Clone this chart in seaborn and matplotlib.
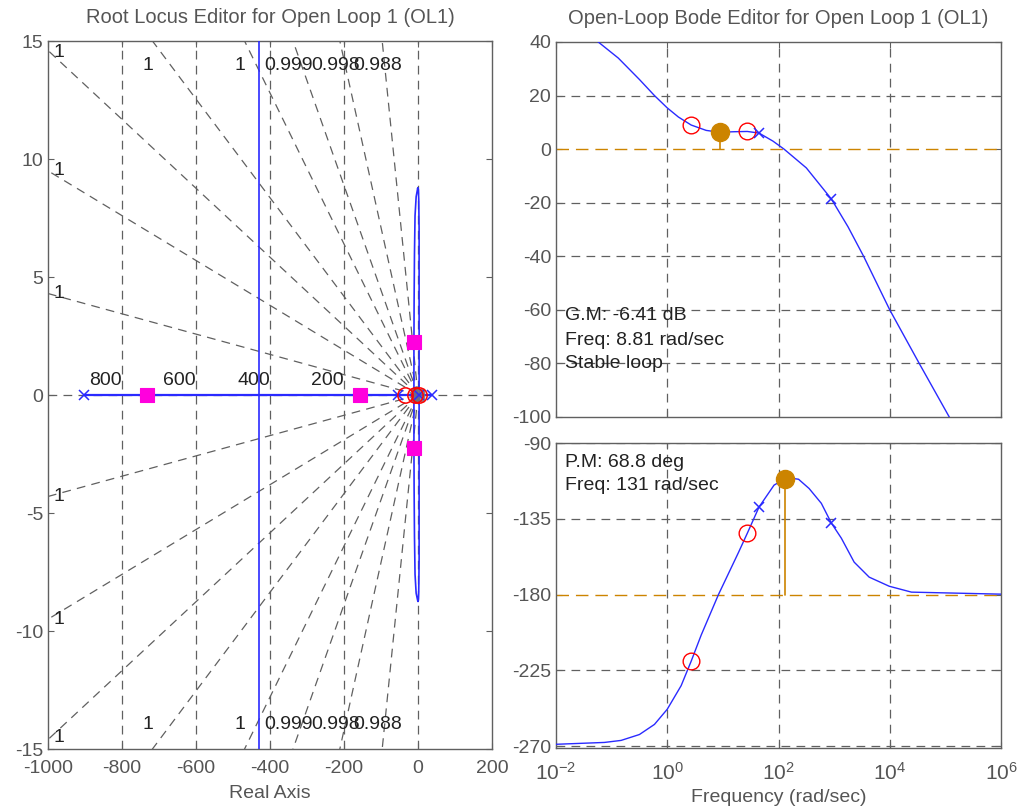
import numpy as np
import matplotlib
matplotlib.use("Agg")
import matplotlib.pyplot as plt
import seaborn as sns
import pandas as pd
from matplotlib.ticker import FixedLocator, NullLocator, FuncFormatter

# ---------------- data: root locus ----------------
rl_xticks = [-1000, -800, -600, -400, -200, 0, 200]
rl_yticks = [-15, -10, -5, 0, 5, 10, 15]
real_branch_re = [-903, 38]
real_branch_im = [0, 0]
vert_branch_re = [-430, -430]
vert_branch_im = [-16, 16]
loop_re = [-1, -5, -8, -9.5, -10.5, -11, -11, -11, -10.5, -9.5, -8, -5, -1, 0,
           1, 2, 3, 3, 3, 3, 3, 3, 3, 2, 1, 0, -1]
loop_im = [8.75, 8.4, 7.6, 6, 4, 2, 0, -2, -4, -6, -7.6, -8.4, -8.7, -8.75,
           -8.7, -8.3, -7, -5, -3, 0, 3, 5, 7, 8.3, 8.7, 8.78, 8.75]
cl_pole_re = [-732, -157, -10, -10]
cl_pole_im = [0, 0, 2.25, -2.25]
ol_pole_re = [-903, -54, 2, 38]
ol_zero_re = [-35, -8, 3]
damp_slopes = [0.0043, 0.0095, 0.0146, 0.0209, 0.032, 0.0444, 0.071, 0.155]
damp_labels = ["1", "1", "1", "1", "1", "0.999", "0.998", "0.988"]
wn_values = [800, 600, 400, 200]
wn_labels = ["800", "600", "400", "200"]

# ---------------- data: bode ----------------
mag_logw = [-2.0, -1.24, -0.88, -0.5, -0.23, 0.0, 0.2, 0.43, 0.7, 0.94, 1.2, 1.44,
            1.65, 1.9, 2.1, 2.5, 2.95, 3.25, 3.53, 4.0, 4.53, 5.07, 5.5]
mag_db = [55, 40, 34, 26, 20, 15.4, 12, 9, 7, 6.3, 6.5, 6.6,
          6, 3, 0, -7, -18.6, -29, -40, -60, -80, -100, -116]
phase_logw = [-2.0, -1.13, -0.83, -0.5, -0.23, 0.0, 0.25, 0.43, 0.61, 0.92, 1.28, 1.44,
              1.65, 1.92, 2.12, 2.2, 2.36, 2.55, 2.77, 2.95, 3.13, 3.36, 3.63, 3.99, 4.39, 6.0]
phase_deg = [-268.8, -267.7, -266.5, -263, -257, -248, -234, -219.5, -204, -180, -155, -143.5,
             -128, -115, -111.2, -110.8, -111.5, -117, -125.8, -137.5, -146.5, -160.7, -169.6,
             -175, -178.5, -179.7]
zero_logw = [0.43, 1.44]
zero_mag = [9, 6.8]
zero_phase = [-219.5, -143.5]
pole_logw = [1.65, 2.95]
pole_mag = [6, -18.6]
pole_phase = [-128, -137.5]
gm_freq, gm_db = 8.81, 6.41
pm_freq, pm_phase = 131, -111.2
bode_xticks = [1e-2, 1e0, 1e2, 1e4, 1e6]
mag_yticks = [-100, -80, -60, -40, -20, 0, 20, 40]
phase_yticks = [-270, -225, -180, -135, -90]

# ---------------- style ----------------
sns.set_theme(style="white")
plt.rcParams["font.family"] = ["Liberation Sans", "DejaVu Sans"]
plt.rcParams["mathtext.fontset"] = "custom"
plt.rcParams["mathtext.rm"] = "Liberation Sans"
plt.rcParams["mathtext.it"] = "Liberation Sans"

GRAY = "#606060"
TXT = "#222222"
BLUE = "#2a2aff"
ORANGE = "#cc8400"
DASH = (0, (7, 5))

fig = plt.figure(figsize=(10.23, 8.08), dpi=100)
ax_rl = fig.add_axes([48/1023, 1-749/808, 444/1023, 708/808])
ax_mag = fig.add_axes([556/1023, 1-417/808, 445/1023, 375/808])
ax_ph = fig.add_axes([556/1023, 1-748/808, 445/1023, 305/808])

def style_axes(ax):
    for s in ax.spines.values():
        s.set_color(GRAY)
        s.set_linewidth(1.0)
        s.set_visible(True)
    ax.tick_params(direction="in", length=4, width=0.8, colors=GRAY,
                   labelcolor="#555555", labelsize=14, top=True, right=True,
                   bottom=True, left=True)

# ---------------- root locus ----------------
ax = ax_rl
ax.set_xlim(-1000, 200)
ax.set_ylim(-15, 15)
ax.axhline(0, color=GRAY, lw=0.9, ls=DASH, zorder=1)
ax.axvline(0, color=GRAY, lw=0.9, ls=DASH, zorder=1)
for wn, lab in zip(wn_values, wn_labels):
    ax.axvline(-wn, color=GRAY, lw=0.9, ls=DASH, zorder=1)
    ax.text(-wn, 0.25, lab, ha="right", va="bottom", fontsize=14, color=TXT)
for s, lab in zip(damp_slopes, damp_labels):
    for sign in (1, -1):
        ax.plot([0, -3000], [0, sign * 3000 * s], color=GRAY, lw=0.9, ls=DASH, zorder=1)
        if 1000 * s < 15:
            yy = sign * 1000 * s
            if s > 0.014:
                yy = sign * 14.5
            ax.text(-985, yy, lab, ha="left", va="center", fontsize=14, color=TXT)
        else:
            xx = -15.0 / s - 12
            ax.text(xx, sign * 13.95, lab, ha="center", va="center", fontsize=14, color=TXT)

sns.lineplot(x=real_branch_re, y=real_branch_im, ax=ax, color=BLUE, lw=1.6, zorder=3)
sns.lineplot(x=vert_branch_re, y=vert_branch_im, ax=ax, color=BLUE, lw=1.2, zorder=3,
             sort=False, estimator=None)
sns.lineplot(x=loop_re, y=loop_im, ax=ax, color=BLUE, lw=1.2, zorder=3,
             sort=False, estimator=None)
ax.plot(ol_pole_re, [0]*len(ol_pole_re), ls="none", marker="x", color=BLUE, ms=7, mew=1.1, zorder=5)
ax.plot(ol_zero_re, [0]*len(ol_zero_re), ls="none", marker="o", mfc="none", mec="red", ms=11, mew=1.1, zorder=5)
ax.plot([0], [0], ls="none", marker="s", color="#777777", ms=8, alpha=0.8, zorder=4)
sns.scatterplot(x=cl_pole_re, y=cl_pole_im, ax=ax, marker="s", color="#ff00dd",
                s=100, edgecolor="#ff00dd", zorder=6)
ax.set_xticks(rl_xticks)
ax.set_yticks(rl_yticks)
ax.set_xticklabels([str(v) for v in rl_xticks])
ax.set_yticklabels([str(v) for v in rl_yticks])
style_axes(ax)
ax.tick_params(axis="x", pad=8)
ax.set_xlabel("Real Axis", fontsize=14, color="#555555", labelpad=6)
ax.set_title("Root Locus Editor for Open Loop 1 (OL1)", fontsize=14.5, color="#555555", pad=13)

# ---------------- bode magnitude ----------------
mag_df = pd.DataFrame({"w": 10.0 ** np.array(mag_logw), "db": mag_db})
ph_df = pd.DataFrame({"w": 10.0 ** np.array(phase_logw), "deg": phase_deg})

ax = ax_mag
ax.set_xscale("log")
ax.set_xlim(1e-2, 1e6)
ax.set_ylim(-100, 40)
for t in bode_xticks[1:-1]:
    ax.axvline(t, color=GRAY, lw=0.9, ls=DASH, zorder=1)
for t in mag_yticks[1:-1]:
    if t != 0:
        ax.axhline(t, color=GRAY, lw=0.9, ls=DASH, zorder=1)
ax.axhline(0, color=ORANGE, lw=1.0, ls=(0, (9, 5)), zorder=2)
sns.lineplot(data=mag_df, x="w", y="db", ax=ax, color=BLUE, lw=1.0, sort=False,
             estimator=None, zorder=3)
ax.plot([gm_freq, gm_freq], [0, gm_db], color=ORANGE, lw=1.2, zorder=4)
ax.plot([gm_freq], [gm_db], ls="none", marker="o", color=ORANGE, ms=13, zorder=5)
ax.plot(10.0 ** np.array(zero_logw), zero_mag, ls="none", marker="o", mfc="none",
        mec="red", ms=12, mew=1.0, zorder=5)
ax.plot(10.0 ** np.array(pole_logw), pole_mag, ls="none", marker="x", color=BLUE,
        ms=7, mew=1.1, zorder=5)
ax.xaxis.set_major_locator(FixedLocator(bode_xticks))
ax.xaxis.set_minor_locator(NullLocator())
ax.set_xticklabels([])
ax.set_yticks(mag_yticks)
ax.set_yticklabels([str(v) for v in mag_yticks])
style_axes(ax)
ax.set_xlabel("")
ax.set_ylabel("")
ax.text(0.0145, -62, "G.M: -6.41 dB", fontsize=14, color=TXT, va="center")
ax.text(0.0145, -71.3, "Freq: 8.81 rad/sec", fontsize=14, color=TXT, va="center")
ax.text(0.0145, -80, "Stable loop", fontsize=14, color=TXT, va="center")
ax.set_title("Open-Loop Bode Editor for Open Loop 1 (OL1)", fontsize=14.5, color="#555555", pad=13)

# ---------------- bode phase ----------------
ax = ax_ph
ax.set_xscale("log")
ax.set_xlim(1e-2, 1e6)
ax.set_ylim(-271, -90)
for t in bode_xticks[1:-1]:
    ax.axvline(t, color=GRAY, lw=0.9, ls=DASH, zorder=1)
for t in phase_yticks:
    if t != -180:
        ax.axhline(t, color=GRAY, lw=0.9, ls=DASH, zorder=1)
ax.axhline(-180, color=ORANGE, lw=1.0, ls=(0, (9, 5)), zorder=2)
sns.lineplot(data=ph_df, x="w", y="deg", ax=ax, color=BLUE, lw=1.0, sort=False,
             estimator=None, zorder=3)
ax.plot([pm_freq, pm_freq], [-180, pm_phase], color=ORANGE, lw=1.2, zorder=4)
ax.plot([pm_freq], [pm_phase], ls="none", marker="o", color=ORANGE, ms=13, zorder=5)
ax.plot(10.0 ** np.array(zero_logw), zero_phase, ls="none", marker="o", mfc="none",
        mec="red", ms=12, mew=1.0, zorder=5)
ax.plot(10.0 ** np.array(pole_logw), pole_phase, ls="none", marker="x", color=BLUE,
        ms=7, mew=1.1, zorder=5)
ax.xaxis.set_major_locator(FixedLocator(bode_xticks))
ax.xaxis.set_minor_locator(NullLocator())
ax.xaxis.set_major_formatter(FuncFormatter(lambda v, p: r"$10^{%d}$" % int(round(np.log10(v)))))
ax.set_yticks(phase_yticks)
ax.set_yticklabels([str(v) for v in phase_yticks])
style_axes(ax)
ax.tick_params(axis="x", labelsize=15, pad=10)
ax.set_ylabel("")
ax.set_xlabel("Frequency (rad/sec)", fontsize=14, color="#555555", labelpad=4)
ax.text(0.0145, -101.3, "P.M: 68.8 deg", fontsize=14, color=TXT, va="center")
ax.text(0.0145, -115, "Freq: 131 rad/sec", fontsize=14, color=TXT, va="center")

fig.savefig("out.png", dpi=100)
